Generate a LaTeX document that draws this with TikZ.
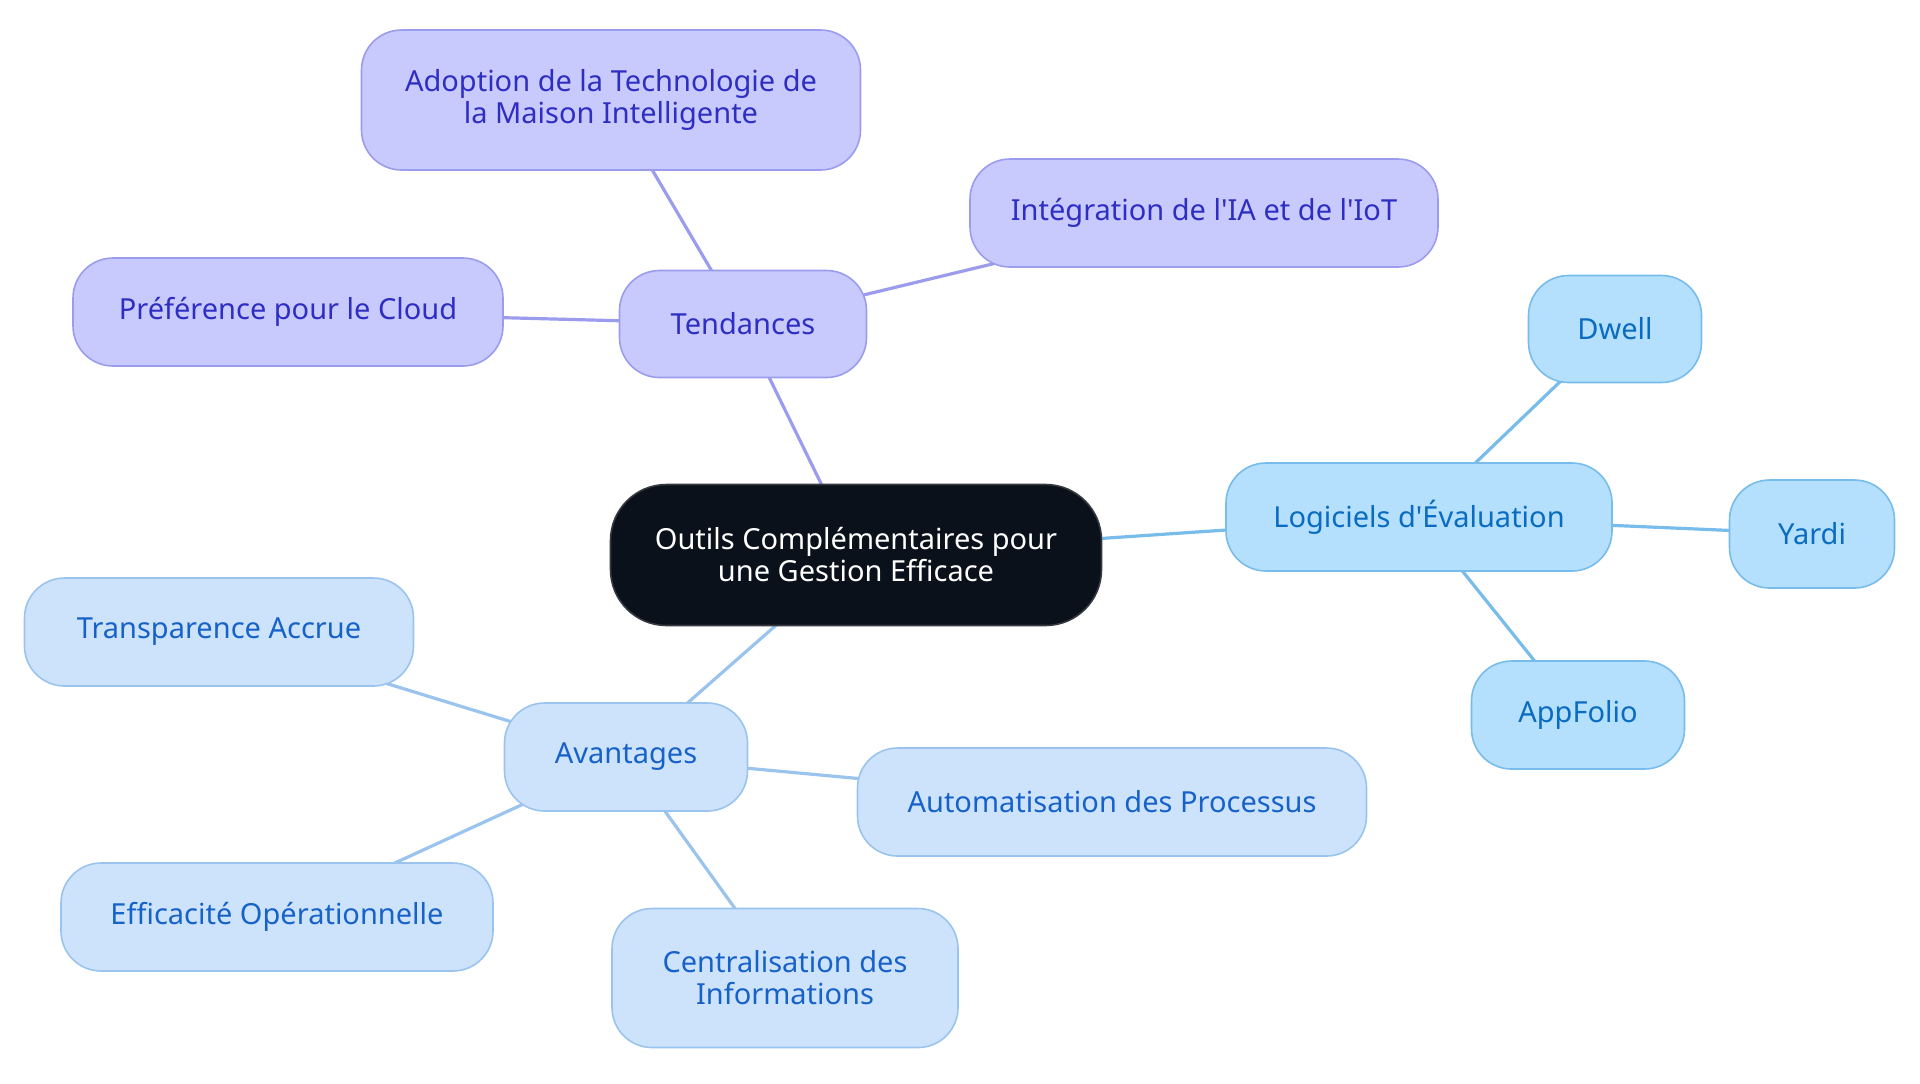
\documentclass[tikz,border=0pt]{standalone}
\usepackage{fontspec}
\usetikzlibrary{backgrounds}
\newfontfamily\mapfont{Noto Sans}
\definecolor{pfill}{HTML}{C8C9FC}
\definecolor{pdraw}{HTML}{9B9CEE}
\definecolor{ptext}{HTML}{2E2EC2}
\definecolor{bfill}{HTML}{B4DFFD}
\definecolor{bdraw}{HTML}{78BCEB}
\definecolor{btext}{HTML}{0A6CC0}
\definecolor{lfill}{HTML}{CCE3FB}
\definecolor{ldraw}{HTML}{9AC4EE}
\definecolor{ltext}{HTML}{1762C8}
\definecolor{cfill}{HTML}{0B111A}
\definecolor{cdraw}{HTML}{363A40}
\tikzset{
  box/.style={rounded corners=20pt, line width=0.8pt, inner sep=0pt, align=center,
    font=\mapfont\fontsize{14.5}{16}\selectfont},
  purplebox/.style={box, fill=pfill, draw=pdraw, text=ptext},
  bluebox/.style={box, fill=bfill, draw=bdraw, text=btext},
  lightbox/.style={box, fill=lfill, draw=ldraw, text=ltext},
  centerbox/.style={box, rounded corners=28pt, fill=cfill, draw=cdraw, text=white},
  pedge/.style={draw=pdraw, line width=1.6pt},
  bedge/.style={draw=bdraw, line width=1.6pt},
  ledge/.style={draw=ldraw, line width=1.6pt},
}
\begin{document}
\begin{tikzpicture}[x=0.5pt,y=-0.5pt]
\useasboundingbox (0,0) rectangle (1920,1083);
% nodes
\node[centerbox, minimum width=245.5pt, minimum height=70.5pt] (c) at (856,555) {Outils Complémentaires pour\\une Gestion Efficace};
\node[purplebox, minimum width=123.5pt, minimum height=53.5pt] (t) at (743,324) {Tendances};
\node[purplebox, minimum width=249.5pt, minimum height=70pt] (ad) at (611,100) {Adoption de la Technologie de\\la Maison Intelligente};
\node[purplebox, minimum width=234pt, minimum height=54pt] (ia) at (1204,213) {Intégration de l'IA et de l'IoT};
\node[purplebox, minimum width=215pt, minimum height=54pt] (pc) at (288,312) {Préférence pour le Cloud};
\node[bluebox, minimum width=193pt, minimum height=54pt] (lg) at (1419,517) {Logiciels d'Évaluation};
\node[bluebox, minimum width=86.5pt, minimum height=53.5pt] (dw) at (1615,329) {Dwell};
\node[bluebox, minimum width=82.5pt, minimum height=54pt] (ya) at (1812,534) {Yardi};
\node[bluebox, minimum width=106.5pt, minimum height=54pt] (af) at (1578,715) {AppFolio};
\node[lightbox, minimum width=121.5pt, minimum height=54pt] (av) at (626,757) {Avantages};
\node[lightbox, minimum width=194.5pt, minimum height=54pt] (tr) at (219,632) {Transparence Accrue};
\node[lightbox, minimum width=254.5pt, minimum height=54pt] (au) at (1112,802) {Automatisation des Processus};
\node[lightbox, minimum width=216pt, minimum height=54pt] (ef) at (277,917) {Efficacité Opérationnelle};
\node[lightbox, minimum width=173pt, minimum height=69.5pt] (ce) at (785,978) {Centralisation des\\Informations};
% edges (behind nodes, centre to centre)
\begin{scope}[on background layer]
\path[pedge] (c.center) -- (t.center);
\path[pedge] (t.center) -- (ad.center);
\path[pedge] (t.center) -- (ia.center);
\path[pedge] (t.center) -- (pc.center);
\path[bedge] (c.center) -- (lg.center);
\path[bedge] (lg.center) -- (dw.center);
\path[bedge] (lg.center) -- (ya.center);
\path[bedge] (lg.center) -- (af.center);
\path[ledge] (c.center) -- (av.center);
\path[ledge] (av.center) -- (tr.center);
\path[ledge] (av.center) -- (au.center);
\path[ledge] (av.center) -- (ef.center);
\path[ledge] (av.center) -- (ce.center);
\end{scope}
\end{tikzpicture}
\end{document}
